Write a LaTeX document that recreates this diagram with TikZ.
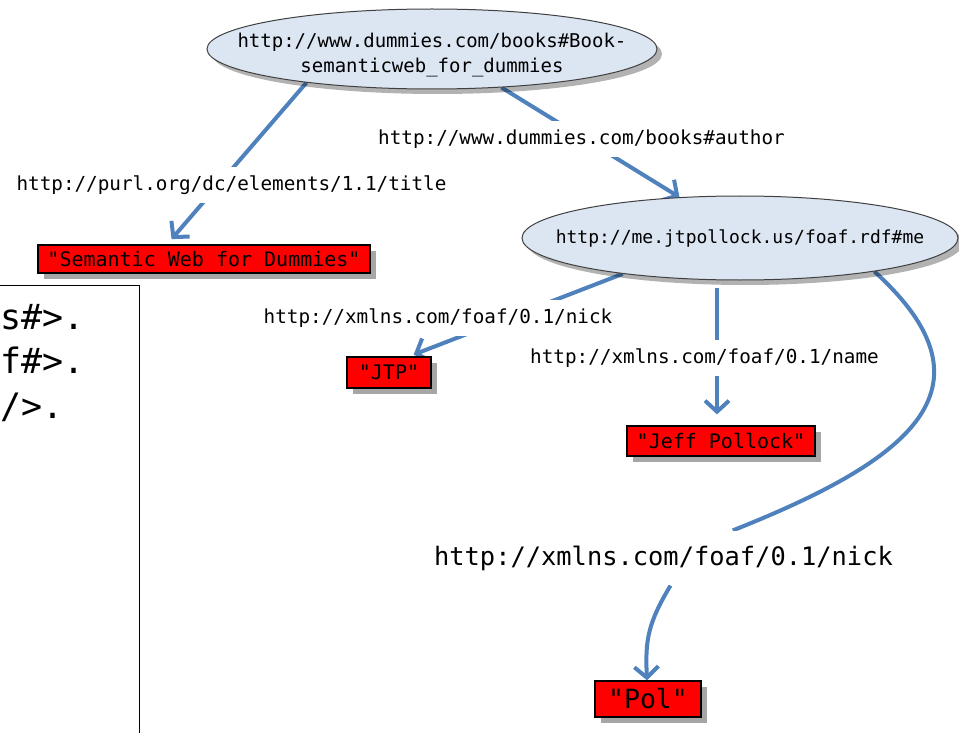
\documentclass[tikz,border=0pt]{standalone}
\usepackage{fontspec}
\usetikzlibrary{shapes.geometric, arrows.meta, shadows, backgrounds}
\newfontfamily\codefont{DejaVu Sans Mono}
\definecolor{linkblue}{HTML}{4F81BD}
\definecolor{nodefill}{HTML}{DCE6F2}
\definecolor{nodeedge}{HTML}{404040}
\tikzstyle{resource} = [
    ellipse,
    draw=nodeedge,
    fill=nodefill,
    line width=1pt,
    inner sep=0pt,
    drop shadow={shadow xshift=5pt, shadow yshift=-5pt, opacity=0.3, fill=black}
]
\tikzstyle{uri} = [
    inner sep=0pt,
    align=center,
    font=\fontsize{19}{25}\codefont
]
\tikzstyle{literal} = [
    rectangle,
    draw=black,
    line width=1.2pt,
    fill=red,
    inner sep=0pt,
    font=\fontsize{20}{24}\codefont,
    drop shadow={shadow xshift=6pt, shadow yshift=-6pt, opacity=0.35, fill=black}
]
\tikzstyle{predicate} = [
    fill=white,
    inner xsep=2pt,
    inner ysep=9pt,
    font=\fontsize{19.3}{23}\codefont
]
\tikzstyle{prefixline} = [
    anchor=base west,
    inner sep=0pt,
    font=\fontsize{35}{42}\codefont
]
\tikzstyle{link} = [line width=4pt, draw=linkblue]
\tikzstyle{arrow} = [link, -{Straight Barb[length=11pt,width=24pt]}]

\begin{document}
\begin{tikzpicture}[x=1pt, y=-1pt]
\useasboundingbox (0,0) rectangle (959,733);
\clip (0,0) rectangle (959,733);

% resources
\node (book) [resource, minimum width=450pt, minimum height=80pt] at (432,49) {};
\node (booktext) [uri] at (432,55.5)
{http://www.dummies.com/books\#Book-\\semanticweb\_for\_dummies};

\node (me) [resource, minimum width=436pt, minimum height=84pt] at (740,238) {};
\node (metext) [uri, font=\fontsize{18}{22}\codefont] at (740,238)
{http://me.jtpollock.us/foaf.rdf\#me};

% literals
\node (semantic) [literal, minimum width=332pt, minimum height=28pt] at (204,259)
{"Semantic Web for Dummies"};
\node (jtp) [literal, minimum width=84pt, minimum height=31pt] at (389,372.5)
{"JTP"};
\node (jeff) [literal, minimum width=188pt, minimum height=30pt] at (721,441)
{"Jeff Pollock"};
\node (pol) [literal, minimum width=106pt, minimum height=36pt,
    font=\fontsize{26.5}{30}\codefont] at (648,699) {"Pol"};

% predicates
\node (titlelabel) [predicate] at (231.5,185) {http://purl.org/dc/elements/1.1/title};
\node (authorlabel) [predicate] at (581.5,139) {http://www.dummies.com/books\#author};
\node (nicklabel) [predicate] at (438,318) {http://xmlns.com/foaf/0.1/nick};
\node (namelabel) [predicate] at (704.5,358) {http://xmlns.com/foaf/0.1/name};
\node (bignick) [predicate, inner ysep=15pt, font=\fontsize{25.4}{30}\codefont]
    at (663.5,558) {http://xmlns.com/foaf/0.1/nick};

% prefix listing at the left
\node (prefixes) [draw=black, line width=1.2pt, anchor=north west, inner sep=0pt,
    minimum width=140pt, minimum height=470pt] at (-1,285) {};
\node (prefixone) [prefixline] at (0,329) {s\#>.};
\node (prefixtwo) [prefixline] at (0,373.5) {f\#>.};
\node (prefixthree) [prefixline] at (0,418) {/>.};

\begin{scope}[on background layer]
\fill[white] (0,0) rectangle (959,733);
\draw [arrow, shorten >=7pt] (book.195) -- ([xshift=-37pt]semantic.north);
\draw [arrow] (book.-29) -- (me.146);
\draw [arrow, shorten >=5pt] (me.197) -- ([xshift=20pt]jtp.north);
\draw [arrow, shorten <=7pt, shorten >=11pt] ([xshift=-23pt]me.south) -- ([xshift=-4pt]jeff.north);
\draw [link] (me.-14) .. controls (1005,390) and (905,462) .. (bignick);
\draw [arrow] ([xshift=7pt]bignick.south) .. controls (648,623) and (645,640) .. (pol);
\end{scope}

\end{tikzpicture}
\end{document}
